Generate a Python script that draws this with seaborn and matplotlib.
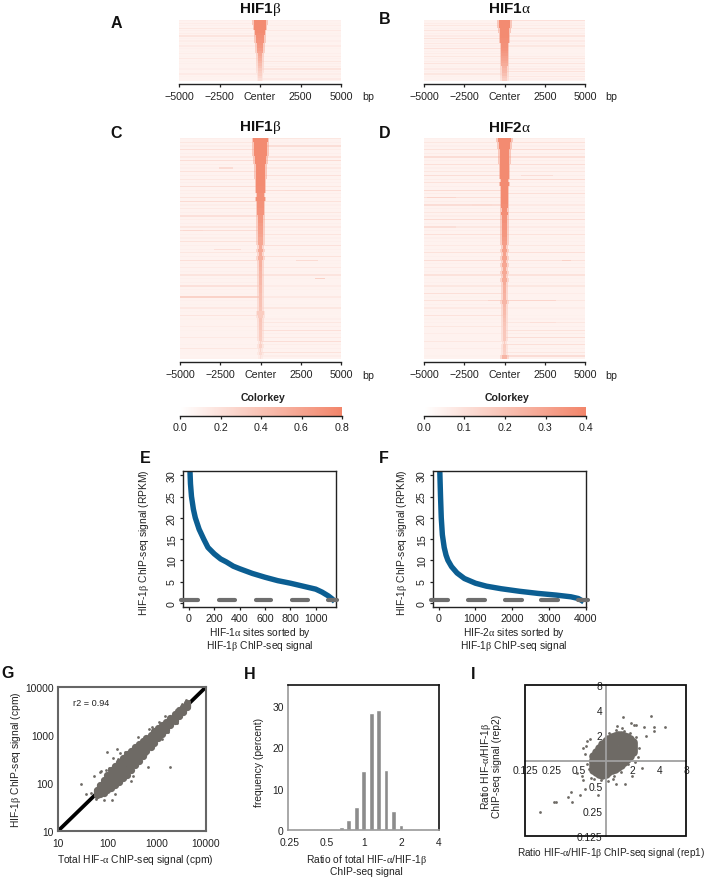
import numpy as np
import pandas as pd
import matplotlib
matplotlib.use("Agg")
import matplotlib.pyplot as plt
from matplotlib.colors import LinearSegmentedColormap, Normalize
from matplotlib.cm import ScalarMappable
from matplotlib.patches import Rectangle
from matplotlib.ticker import NullLocator
import seaborn as sns

# ---------- data ----------
HEAT_TICK_LABELS = ["\u22125000", "\u22122500", "Center", "2500", "5000"]
HEAT_BINS = [-4975 + 50 * k for k in range(200)]

# row background, peak half-width (bp), peak level: fractions of the colour key
A_BG = [0.14, 0.16, 0.13, 0.2, 0.14, 0.15, 0.22, 0.13, 0.15, 0.12, 0.17, 0.13, 0.12, 0.15, 0.12, 0.19, 0.12, 0.13, 0.11, 0.14, 0.11, 0.17, 0.12, 0.11]
A_HW = [420, 400, 350, 340, 300, 290, 270, 240, 240, 220, 200, 190, 180, 170, 160, 170, 150, 140, 140, 130, 130, 120, 120, 110]
A_PK = [0.95, 0.95, 0.95, 0.95, 0.95, 0.93, 0.92, 0.9, 0.88, 0.86, 0.84, 0.8, 0.75, 0.72, 0.68, 0.65, 0.6, 0.55, 0.5, 0.45, 0.4, 0.38, 0.33, 0.28]
B_BG = [0.12, 0.16, 0.2, 0.13, 0.22, 0.14, 0.17, 0.24, 0.13, 0.19, 0.14, 0.25, 0.13, 0.16, 0.2, 0.13, 0.15, 0.22, 0.12, 0.17, 0.13, 0.2, 0.12, 0.11]
B_HW = [360, 350, 330, 300, 280, 260, 250, 240, 230, 220, 220, 210, 210, 200, 200, 190, 190, 180, 170, 170, 160, 160, 150, 150]
B_PK = [0.95, 0.95, 0.95, 0.95, 0.95, 0.95, 0.95, 0.93, 0.92, 0.9, 0.9, 0.88, 0.85, 0.82, 0.78, 0.75, 0.72, 0.68, 0.64, 0.6, 0.58, 0.52, 0.45, 0.4]
C_BG = [0.14, 0.2, 0.15, 0.26, 0.14, 0.18, 0.28, 0.15, 0.14, 0.24,
        0.15, 0.2, 0.14, 0.27, 0.15, 0.14, 0.22, 0.3, 0.15, 0.18,
        0.14, 0.25, 0.15, 0.14, 0.2, 0.28, 0.14, 0.15, 0.24, 0.14,
        0.13, 0.2, 0.14, 0.26, 0.13, 0.17, 0.13, 0.22, 0.13, 0.14,
        0.25, 0.13, 0.12, 0.24, 0.13, 0.12, 0.19, 0.12, 0.22, 0.12,
        0.11, 0.16, 0.12, 0.11, 0.18, 0.11, 0.12, 0.2, 0.11, 0.1]
C_HW = [430, 410, 400, 380, 380, 340, 340, 310, 320, 280,
        290, 260, 270, 240, 250, 220, 230, 200, 210, 180,
        190, 160, 170, 150, 160, 140, 150, 130, 140, 120,
        140, 110, 130, 120, 120, 100, 120, 100, 110, 90,
        110, 90, 110, 100, 110, 80, 100, 200, 150, 90,
        100, 80, 100, 80, 100, 70, 90, 70, 80, 70]
C_PK = [0.95, 0.95, 0.95, 0.95, 0.95, 0.95, 0.95, 0.95, 0.95, 0.95,
        0.95, 0.95, 0.95, 0.94, 0.94, 0.92, 0.92, 0.9, 0.9, 0.88,
        0.88, 0.85, 0.85, 0.82, 0.8, 0.78, 0.75, 0.72, 0.72, 0.7,
        0.7, 0.68, 0.66, 0.65, 0.65, 0.62, 0.6, 0.6, 0.58, 0.58,
        0.55, 0.55, 0.52, 0.52, 0.5, 0.5, 0.48, 0.42, 0.42, 0.48,
        0.46, 0.45, 0.42, 0.42, 0.4, 0.38, 0.38, 0.35, 0.3, 0.25]
D_BG = [0.13, 0.2, 0.14, 0.24, 0.16, 0.28, 0.14, 0.26, 0.14, 0.2,
        0.28, 0.15, 0.24, 0.14, 0.3, 0.16, 0.26, 0.15, 0.28, 0.14,
        0.2, 0.15, 0.3, 0.14, 0.2, 0.14, 0.26, 0.14, 0.13, 0.18,
        0.13, 0.24, 0.13, 0.28, 0.13, 0.17, 0.13, 0.24, 0.12, 0.13,
        0.2, 0.12, 0.26, 0.12, 0.24, 0.13, 0.18, 0.12, 0.24, 0.12,
        0.13, 0.2, 0.11, 0.16, 0.11, 0.2, 0.11, 0.15, 0.11, 0.12]
D_HW = [380, 360, 360, 320, 320, 280, 290, 250, 260, 230,
        240, 210, 230, 200, 220, 190, 210, 180, 190, 170,
        180, 160, 170, 150, 160, 140, 160, 130, 150, 120,
        140, 120, 140, 110, 130, 110, 130, 110, 130, 100,
        120, 100, 120, 100, 130, 90, 120, 90, 120, 90,
        120, 80, 110, 80, 110, 70, 110, 80, 90, 130]
D_PK = [0.95, 0.95, 0.95, 0.95, 0.95, 0.95, 0.95, 0.95, 0.95, 0.95,
        0.95, 0.95, 0.95, 0.95, 0.95, 0.95, 0.95, 0.95, 0.93, 0.93,
        0.92, 0.9, 0.9, 0.88, 0.88, 0.85, 0.85, 0.82, 0.8, 0.8,
        0.78, 0.78, 0.75, 0.75, 0.72, 0.72, 0.7, 0.7, 0.68, 0.68,
        0.65, 0.65, 0.62, 0.62, 0.6, 0.58, 0.56, 0.55, 0.52, 0.5,
        0.48, 0.46, 0.46, 0.45, 0.45, 0.42, 0.42, 0.4, 0.38, 0.6]
# streaks: row, from bp, to bp, level
C_STREAKS = [(43, -5000, 0, 0.36), (8, -2600, -1700, 0.3), (14, 1500, 3200, 0.3), (25, -4800, -3600, 0.32), (33, 2200, 3600, 0.3), (30, -2900, -1200, 0.26), (38, 3400, 4000, 0.38)]
D_STREAKS = [(44, -1000, 3200, 0.34), (16, -4800, -3000, 0.34), (18, -2000, -800, 0.3), (10, 1000, 3000, 0.28), (33, 3600, 4100, 0.38), (24, -5000, -3000, 0.27), (50, 1600, 3200, 0.26)]

E_X = [8, 12, 20, 35, 50, 80, 116, 150, 200, 250, 295, 350, 400, 500, 600, 700, 800, 900, 1000, 1050, 1100, 1130, 1150]
E_Y = [31, 28, 25, 22, 20, 17.3, 15, 13, 11.5, 10.3, 9.6, 8.6, 8, 6.9, 6, 5.2, 4.6, 3.9, 3.2, 2.5, 1.6, 0.9, 0.3]
E_DASH_FROM = [-60, 237, 526, 813, 1097]
E_DASH_TO = [70, 361, 650, 939, 1168]
F_X = [30, 50, 70, 100, 150, 200, 250, 350, 500, 700, 1000, 1300, 1700, 2200, 2700, 3200, 3600, 3800, 3900, 3950]
F_Y = [31, 25, 20, 16, 13, 11.2, 10, 8.5, 7, 5.7, 4.6, 3.9, 3.3, 2.7, 2.2, 1.8, 1.4, 1.0, 0.5, 0.2]
F_DASH_FROM = [-200, 800, 1800, 2790, 3790]
F_DASH_TO = [255, 1260, 2260, 3245, 4060]

G_COLX = [62, 72, 84, 100, 120, 145, 175, 210, 250, 300, 360, 430, 520, 620, 750, 900, 1080, 1300, 1560, 1900, 2300, 2800, 3400, 4200]
G_Y1 = [55, 60, 62, 72, 78, 90, 105, 125, 150, 190, 235, 290, 370, 460, 560, 690, 850, 1050, 1300, 1650, 2000, 2450, 3000, 3800]
G_Y2 = [60, 70, 78, 90, 100, 118, 140, 165, 200, 245, 295, 360, 445, 530, 650, 790, 960, 1170, 1430, 1760, 2150, 2650, 3200, 4000]
G_Y3 = [65, 78, 92, 108, 128, 150, 175, 210, 255, 305, 365, 435, 520, 620, 750, 900, 1080, 1300, 1570, 1900, 2300, 2850, 3400, 4200]
G_Y4 = [68, 85, 105, 128, 155, 185, 220, 265, 320, 380, 450, 530, 620, 740, 870, 1030, 1220, 1450, 1720, 2060, 2480, 3050, 3600, 4400]
G_Y5 = [70, 92, 118, 150, 185, 225, 275, 335, 400, 470, 550, 640, 750, 880, 1020, 1190, 1380, 1620, 1900, 2250, 2700, 3300, 3800, 4600]
G_OUT_X = [28.8, 98, 157, 130, 164, 76, 54, 70, 37.5, 47, 1890, 667, 306, 126, 60, 3980, 2500, 3300, 1500, 1100, 800, 230, 110, 95, 180, 420, 700, 1300, 1700, 600, 2600, 4600, 85, 140, 330]
G_OUT_Y = [94.8, 437, 512, 331, 316, 180, 141, 166, 58.6, 63, 219, 212, 111, 44.6, 46, 5250, 3300, 4400, 2500, 1900, 1500, 450, 210, 190, 420, 900, 1350, 830, 1150, 400, 1800, 5000, 45, 60, 140]
G_TICKS = [10, 100, 1000, 10000]
G_TICK_LABELS = ["10", "100", "1000", "10000"]

H_LOG2 = [-1.82, -1.62, -1.42, -1.22, -1.02, -0.82, -0.62, -0.42, -0.22, -0.02, 0.18, 0.38, 0.58, 0.78, 0.98, 1.18, 1.38, 1.58, 1.78, 1.98]
H_FREQ = [0.25, 0.1, 0.2, 0.2, 0.2, 0.3, 0.7, 2.3, 5.6, 14.2, 28.3, 29, 14.6, 4.5, 1.2, 0.2, 0.2, 0.2, 0.2, 0.1]
H_TICKS = [-2, -1, 0, 1, 2]
H_TICK_LABELS = ["0.25", "0.5", "1", "2", "4"]

I_COLX = [0.72, 0.78, 0.85, 0.92, 1.0, 1.08, 1.17, 1.27, 1.38, 1.5, 1.62, 1.76, 1.9, 2.05]
I_COLY = [[0.76, 0.82, 0.88, 0.95, 1.02, 1.14],
          [0.72, 0.8, 0.9, 1.0, 1.14, 1.28],
          [0.69, 0.78, 0.9, 1.04, 1.22, 1.42],
          [0.67, 0.77, 0.9, 1.06, 1.3, 1.58],
          [0.69, 0.79, 0.93, 1.12, 1.4, 1.7],
          [0.73, 0.84, 0.99, 1.2, 1.5, 1.82],
          [0.76, 0.88, 1.05, 1.27, 1.58, 1.92],
          [0.79, 0.92, 1.1, 1.32, 1.65, 1.98],
          [0.83, 0.96, 1.14, 1.38, 1.7, 2.02],
          [0.89, 1.02, 1.2, 1.42, 1.72, 2.03],
          [0.96, 1.08, 1.25, 1.45, 1.72, 1.98],
          [1.03, 1.15, 1.3, 1.48, 1.7, 1.92],
          [1.12, 1.22, 1.35, 1.48, 1.64, 1.82],
          [1.27, 1.34, 1.42, 1.5, 1.58, 1.68]]
I_OUT_X = [0.184, 0.267, 0.276, 0.384, 0.407, 0.426, 0.519, 0.59, 0.82, 1.59, 3.2, 3.53, 3.53, 4.69, 2.68, 2.84, 1.93, 2.07, 2.21, 1.34, 1.53, 2.56, 1.98, 1.66, 1.31, 1.08, 1.23, 0.54, 0.566, 0.476, 0.59, 0.566, 0.616, 0.6, 0.67, 2.3, 2.4, 2.2, 2.15, 0.62, 0.65, 0.68, 1.8, 1.5, 1.2, 0.9, 0.75, 1.1, 1.3, 1.6, 1.9]
I_OUT_Y = [0.241, 0.323, 0.323, 0.368, 0.418, 0.323, 0.392, 0.45, 0.392, 3.33, 3.39, 2.53, 2.24, 2.5, 2.53, 1.99, 2.82, 2.69, 2.69, 2.57, 2.46, 0.82, 0.65, 0.52, 0.52, 0.566, 0.65, 0.65, 0.59, 0.71, 1.18, 1.42, 1.7, 1.48, 1.79, 1.1, 1.4, 1.9, 0.95, 0.9, 0.8, 0.62, 0.9, 0.72, 0.6, 0.58, 0.6, 2.15, 2.3, 2.25, 2.15]
I_TICKS = [0.125, 0.25, 0.5, 1, 2, 4, 8]
I_TICK_LABELS = ["0.125", "0.25", "0.5", "1", "2", "4", "8"]

KEY_A_TICKS = [0.0, 0.2, 0.4, 0.6, 0.8]
KEY_B_TICKS = [0.0, 0.1, 0.2, 0.3, 0.4]

# ---------- style ----------
sns.set_theme(style="white")
plt.rcParams["font.family"] = ["Liberation Sans", "DejaVu Sans"]
plt.rcParams["mathtext.fontset"] = "custom"
plt.rcParams["mathtext.rm"] = "Liberation Serif"
plt.rcParams["mathtext.it"] = "Liberation Serif"
plt.rcParams["mathtext.bf"] = "Liberation Serif:bold"
plt.rcParams["text.color"] = "#222222"
plt.rcParams["axes.labelcolor"] = "#222222"
plt.rcParams["xtick.color"] = "#222222"
plt.rcParams["ytick.color"] = "#222222"

W, H = 709, 878
fig = plt.figure(figsize=(W / 100, H / 100), dpi=100, facecolor="white")
cmap = LinearSegmentedColormap.from_list("key", ["#ffffff", "#f2856a"])
BLUE = "#0b5e92"
DOT = "#6e6a65"
GRAY = "#8c8c8c"
TS = 7.7
LS = 7.4
BASE = 0.11


def axpx(x0, y0, x1, y1):
    return fig.add_axes([x0 / W, 1 - y1 / H, (x1 - x0) / W, (y1 - y0) / H])


def label(x, y, s, **kw):
    kw.setdefault("ha", "center")
    kw.setdefault("va", "center")
    kw.setdefault("fontsize", LS)
    return fig.text(x / W, 1 - y / H, s, **kw)


def heat(box, bg, hw, pk, streaks, title, title_xy, bp_x, bp_y, sub):
    n = len(bg)
    rows = []
    for i, (w, p) in enumerate(zip(hw, pk)):
        left, right = bg[i], bg[(i + 11) % n]
        for k in range(sub):
            row = []
            for x in HEAT_BINS:
                b = (left if x < 0 else right) if k == 0 else BASE
                for r, a, c, v in streaks:
                    if r == i and k == 0 and a <= x <= c:
                        b = max(b, v)
                if abs(x) <= w:
                    row.append(p)
                elif abs(x) <= w + 100:
                    row.append(b + 0.4 * (p - b))
                else:
                    row.append(b)
            rows.append(row)
    mat = np.array(rows)
    ax = axpx(*box)
    sns.heatmap(mat, ax=ax, cmap=cmap, vmin=0, vmax=1, cbar=False, xticklabels=False, yticklabels=False)
    for s in ax.spines.values():
        s.set_visible(False)
    ax.spines["bottom"].set_visible(True)
    ax.spines["bottom"].set_position(("outward", 2.2))
    ax.spines["bottom"].set_linewidth(1.0)
    ax.spines["bottom"].set_color("#222222")
    ax.set_xticks([0, 50, 100, 150, 200])
    ax.set_xticklabels(HEAT_TICK_LABELS, fontsize=TS, rotation=0)
    ax.tick_params(axis="x", bottom=True, length=2.5, width=0.9, pad=2.8)
    label(title_xy[0], title_xy[1], title, fontsize=11, fontweight="bold", color="#111111")
    label(bp_x, bp_y, "bp", fontsize=TS)


def key(box, ticks, title_x):
    cax = axpx(*box)
    cb = fig.colorbar(ScalarMappable(Normalize(ticks[0], ticks[-1]), cmap), cax=cax, orientation="horizontal")
    cb.outline.set_visible(False)
    cb.set_ticks(ticks)
    cb.ax.set_xticklabels([f"{t:.1f}" for t in ticks], fontsize=TS)
    cb.ax.tick_params(axis="x", length=2.5, width=0.9, pad=2.5, bottom=True)
    cb.ax.spines["bottom"].set_visible(True)
    cb.ax.spines["bottom"].set_color("#222222")
    cb.ax.spines["bottom"].set_linewidth(1.0)
    label(title_x, 398, "Colorkey", fontsize=7.6, fontweight="bold")


heat((179, 21, 341, 82), A_BG, A_HW, A_PK, [], "HIF1$\\beta$", (260, 10), 368, 97, 2)
heat((424, 21, 585, 82), B_BG, B_HW, B_PK, [], "HIF1$\\alpha$", (509, 9), 611, 97, 2)
heat((180, 139, 341, 360), C_BG, C_HW, C_PK, C_STREAKS, "HIF1$\\beta$", (260, 128), 368, 376, 3)
heat((424, 139, 585, 360), D_BG, D_HW, D_PK, D_STREAKS, "HIF2$\\alpha$", (509, 128), 611, 376, 3)
key((180, 408, 342, 416.5), KEY_A_TICKS, 263)
key((424, 408, 586, 416.5), KEY_B_TICKS, 507)


def sorted_panel(box, xs, ys, dfrom, dto, xlim, xticks, xlab_x, xlab, ylab_x):
    ax = axpx(*box)
    sns.lineplot(x=xs, y=ys, ax=ax, color=BLUE, lw=3.9, solid_capstyle="butt", errorbar=None, sort=False)
    ax.hlines([0.6] * len(dfrom), dfrom, dto, color="#6e6e6e", lw=3.0, capstyle="round", clip_on=False, zorder=4)
    ax.set_xlim(*xlim)
    ax.set_ylim(-1, 31)
    ax.set_xticks(xticks)
    ax.set_yticks([0, 5, 10, 15, 20, 25, 30])
    ax.tick_params(axis="both", labelsize=TS, length=2.5, width=0.9, pad=2, bottom=True, left=True)
    for t in ax.get_yticklabels():
        t.set_rotation(90)
        t.set_va("center")
    for s in ax.spines.values():
        s.set_color("#222222")
        s.set_linewidth(1.0)
    label(ylab_x, 543, "HIF-1$\\beta$ ChIP-seq signal (RPKM)", rotation=90)
    label(xlab_x, 633, xlab)
    label(xlab_x, 646, "HIF-1$\\beta$ ChIP-seq signal")


sorted_panel((183, 472, 336, 608), E_X, E_Y, E_DASH_FROM, E_DASH_TO, (-47, 1160),
             [0, 200, 400, 600, 800, 1000], 260, "HIF-1$\\alpha$ sites sorted by", 144)
sorted_panel((433, 472, 586, 608), F_X, F_Y, F_DASH_FROM, F_DASH_TO, (-155, 4010),
             [0, 1000, 2000, 3000, 4000], 514, "HIF-2$\\alpha$ sites sorted by", 402)

# ---------- G ----------
ax = axpx(58, 688, 206, 832)
ax.set_xscale("log")
ax.set_yscale("log")
sns.lineplot(x=[10, 10000], y=[10, 10000], ax=ax, color="black", lw=2.7, errorbar=None, zorder=2)
g_core = pd.DataFrame({"x": G_COLX * 5, "y": G_Y1 + G_Y2 + G_Y3 + G_Y4 + G_Y5})
sns.scatterplot(data=g_core, x="x", y="y", ax=ax, s=27, color=DOT, linewidth=0, zorder=3)
sns.scatterplot(x=G_OUT_X, y=G_OUT_Y, ax=ax, s=4, color=DOT, linewidth=0, zorder=3)
ax.set_xlim(10, 10000)
ax.set_ylim(10, 10000)
ax.set_xticks(G_TICKS, G_TICK_LABELS)
ax.set_yticks(G_TICKS, G_TICK_LABELS)
ax.xaxis.set_minor_locator(NullLocator())
ax.yaxis.set_minor_locator(NullLocator())
ax.tick_params(axis="x", labelsize=LS, length=0, pad=5)
ax.tick_params(axis="y", labelsize=LS, length=0, pad=3)
ax.set_xlabel("")
ax.set_ylabel("")
for n, s in ax.spines.items():
    s.set_color("#666666")
    s.set_linewidth(1.5)
label(73, 703, "r2 = 0.94", fontsize=6.6, ha="left")
label(16, 760, "HIF-1$\\beta$ ChIP-seq signal (cpm)", rotation=90)
label(135, 860, "Total HIF-$\\alpha$ ChIP-seq signal (cpm)")

# ---------- H ----------
ax = axpx(288, 686, 439, 831)
sns.barplot(x=H_LOG2, y=H_FREQ, ax=ax, native_scale=True, width=0.64, color=GRAY, saturation=1)
ax.set_xlim(-2.05, 2.0)
ax.set_ylim(0, 35)
ax.set_xticks(H_TICKS, H_TICK_LABELS)
ax.set_yticks([0, 10, 20, 30])
ax.tick_params(axis="x", labelsize=LS, length=0, pad=5)
ax.tick_params(axis="y", labelsize=LS, length=0, pad=3)
ax.spines["left"].set_color("#999999")
ax.spines["bottom"].set_color("#999999")
ax.spines["top"].set_color("#111111")
ax.spines["right"].set_color("#111111")
for s in ax.spines.values():
    s.set_linewidth(1.2)
label(259, 762, "frequency (percent)", rotation=90)
label(366, 860, "Ratio of total HIF-$\\alpha$/HIF-1$\\beta$")
label(366, 872, "ChIP-seq signal")

# ---------- I ----------
ax = axpx(525, 686, 686, 837)
ax.set_xscale("log", base=2)
ax.set_yscale("log", base=2)
i_x, i_y = [], []
for cx, cy in zip(I_COLX, I_COLY):
    i_x += [cx] * len(cy)
    i_y += cy
sns.scatterplot(x=i_x, y=i_y, ax=ax, s=38, color=DOT, linewidth=0, zorder=1)
sns.scatterplot(x=I_OUT_X, y=I_OUT_Y, ax=ax, s=4, color=DOT, linewidth=0, zorder=1)
ax.set_xlim(0.125, 8)
ax.set_ylim(0.125, 8)
ax.set_xticks(I_TICKS, I_TICK_LABELS)
ax.set_yticks(I_TICKS, I_TICK_LABELS)
ax.xaxis.set_minor_locator(NullLocator())
ax.yaxis.set_minor_locator(NullLocator())
ax.tick_params(axis="x", labelsize=LS, length=0, pad=3.5)
ax.tick_params(axis="y", labelsize=LS, length=0, pad=2)
ax.spines["left"].set_position(("data", 1))
ax.spines["bottom"].set_position(("data", 1))
ax.spines["left"].set_color("#a0a0a0")
ax.spines["bottom"].set_color("#a0a0a0")
ax.spines["left"].set_linewidth(1.3)
ax.spines["bottom"].set_linewidth(1.3)
ax.spines["top"].set_visible(False)
ax.spines["right"].set_visible(False)
ax.add_patch(Rectangle((0, 0), 1, 1, transform=ax.transAxes, fill=False, ec="#111111", lw=1.3, clip_on=False, zorder=3))
label(486, 766, "Ratio HIF-$\\alpha$/HIF-1$\\beta$", rotation=90)
label(497, 766, "ChIP-seq signal (rep2)", rotation=90)
label(611, 853, "Ratio HIF-$\\alpha$/HIF-1$\\beta$ ChIP-seq signal (rep1)", fontsize=7.2)

# ---------- panel letters ----------
LETTERS = ["A", "B", "C", "D", "E", "F", "G", "H", "I"]
LETTER_X = [116, 385, 116, 385, 145, 384, 8, 250, 473]
LETTER_Y = [24, 19, 133, 133, 459, 459, 674, 675, 675]
for s, x, y in zip(LETTERS, LETTER_X, LETTER_Y):
    label(x, y, s, fontsize=11.5, fontweight="bold", color="#111111")

fig.savefig("out.png", dpi=100)
